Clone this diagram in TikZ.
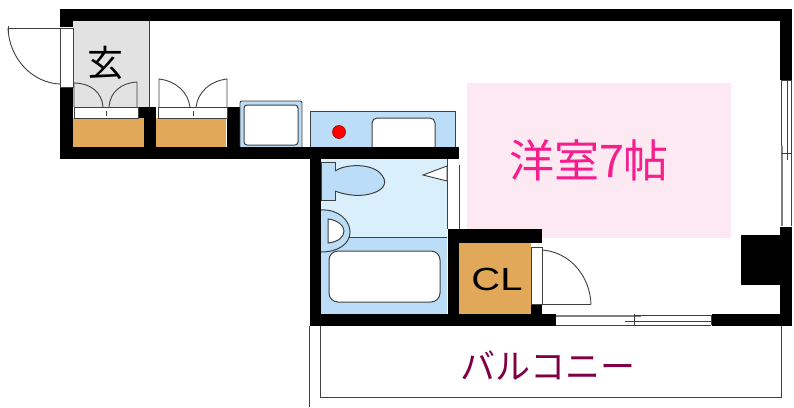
\documentclass[tikz,border=0pt]{standalone}
\usepackage{fontspec}
\newfontfamily\cjk{Noto Sans CJK JP}
\setsansfont{Liberation Sans}
\definecolor{linec}{HTML}{404040}
\definecolor{orangec}{HTML}{E0A858}
\definecolor{bluec}{HTML}{BBDDF8}
\definecolor{paleblue}{HTML}{D9F0FC}
\definecolor{pinkc}{HTML}{FCE9F1}
\definecolor{grayc}{HTML}{E2E2E2}
\tikzset{
  wall/.style={fill=black,draw=none},
  thin line/.style={draw=linec,line width=0.9pt},
  fixture/.style={draw=linec,line width=1pt,fill=bluec},
  whitefix/.style={draw=linec,line width=1pt,fill=white},
  closet/.style={fill=orangec,draw=none},
}
\begin{document}
\begin{tikzpicture}[x=1pt,y=-1pt]
\useasboundingbox (0,0) rectangle (794,407);
\fill[white] (0,0) rectangle (794,407);
% floors
\fill[pinkc] (467,83) rectangle (731,238);
\fill[grayc] (73,21) rectangle (149,107);
\fill[paleblue] (321,159) rectangle (447,237);
\fill[bluec] (321,237) rectangle (447,314);
\draw[fixture] (310,111) rectangle (455,147);
\draw[whitefix,rounded corners=5pt] (372,147) -- (372,118) -- (435,118) -- (435,147);
\draw[fill=red,draw=red!60!black,line width=0.6pt] (339,132) circle (6.5);
\draw[thin line] (149,21) -- (149,107);
\draw[thin line] (321,237) -- (447,237);
\draw[thin line] (447,159) -- (447,229);
\draw[thin line] (459,165) -- (459,229);
% closets
\fill[closet] (73,118) rectangle (144,147);
\fill[closet] (156,118) rectangle (226,147);
\fill[closet] (459,243) rectangle (531,314);
% walls
\fill[wall] (60,9) rectangle (792,21);
\fill[wall] (60,9) rectangle (73,27);
\fill[wall] (60,88) rectangle (73,159);
\fill[wall] (60,147) rectangle (459,159);
\fill[wall] (139,107) rectangle (156,118);
\fill[wall] (144,118) rectangle (156,147);
\fill[wall] (227,107) rectangle (240,147);
\fill[wall] (310,147) rectangle (321,326);
\fill[wall] (310,314) rectangle (556,326);
\fill[wall] (448,229) rectangle (459,314);
\fill[wall] (448,229) rectangle (542,243);
\fill[wall] (531,304) rectangle (542,314);
\fill[wall] (712,314) rectangle (792,326);
\fill[wall] (780,9) rectangle (792,80);
\fill[wall] (780,227) rectangle (792,326);
\fill[wall] (741,235) rectangle (780,285);
% entrance door
\draw[thin line] (60,28) rectangle (73,87);
\draw[thin line] (8,28) -- (60,28);
\draw[thin line] (8,26) -- (8,34);
\draw[thin line] (8,28) .. controls (9,58) and (32,83) .. (60,84);
% shoe closet doors
\draw[thin line] (74,118) rectangle (138,107);
\draw[thin line] (106,111) -- (106,116);
\draw[thin line] (158,118) rectangle (227,107);
\draw[thin line] (193,111) -- (193,116);
\draw[thin line] (74,107) -- (74,83) .. controls (90,83) and (102,92) .. (103,107);
\draw[thin line] (137,107) -- (137,82) .. controls (121,83) and (110,92) .. (109,107);
\draw[thin line] (159,107) -- (159,79) .. controls (176,81) and (188,92) .. (190,107);
\draw[thin line] (227,107) -- (227,79) .. controls (210,81) and (198,92) .. (196,107);
% washer
\fill[bluec] (240,101) rectangle (302,147);
\draw[linec,line width=0.9pt,rounded corners=2pt] (240,147) -- (240,101) -- (302,101) -- (302,147);
\draw[whitefix,rounded corners=3pt] (244,105) rectangle (298,145);
% toilet
\draw[fixture] (321,162) rectangle (335,200);
\draw[fixture] (335,171) .. controls (345,164) and (370,163) .. (380,173) .. controls (388,181) and (385,188) .. (376,192) .. controls (362,198) and (345,195) .. (335,191);
% basin triangle
\draw[thin line,fill=white] (423,175) -- (447,166) -- (447,181) -- cycle;
% wash basin
\draw[fixture] (321,210) .. controls (338,209) and (350,220) .. (350,232) .. controls (350,244) and (338,252) .. (321,252);
\draw[whitefix] (328,219) .. controls (338,220) and (344,226) .. (344,231) .. controls (344,237) and (338,242) .. (328,243) -- cycle;
% tub
\draw[whitefix,rounded corners=9pt] (329,251) rectangle (440,302);
% closet door
\fill[white] (531,247) rectangle (542,304);
\draw[thin line] (531,247) rectangle (542,304);
\draw[thin line] (542,304.5) -- (591,304.5);
\draw[thin line] (542,250) .. controls (570,252) and (590,276) .. (591,304.5);
% south sliding window
\fill[white] (556,314) rectangle (712,326);
\draw[draw=gray,line width=1.6pt] (556,316) -- (641,316);
\draw[thin line] (634,315) -- (712,315);
\draw[thin line] (625,321) -- (711,321);
\draw[thin line] (556,325) -- (711,325);
\draw[thin line] (711,315) -- (711,325);
\draw[thin line] (634,314) -- (634,325);
% east window
\fill[white] (780,80) rectangle (792,227);
\draw[thin line] (781,80) -- (781,226);
\draw[draw=gray,line width=1.6pt] (782,146) -- (782,226);
\draw[thin line] (787,80) -- (787,160);
\draw[thin line] (791,80) -- (791,226);
\draw[thin line] (781,153) -- (791,153);
\draw[thin line] (781,80) -- (791,80);
% balcony
\draw[thin line] (309,326) -- (309,407);
\draw[thin line] (320,326) -- (320,397) -- (781,397) -- (781,326);
% texts
\node[font=\cjk\fontsize{36}{36}\selectfont,text=black,inner sep=0] (genkan) at (105,63) {玄};
\node[font=\cjk\fontsize{45}{45}\selectfont,text={rgb,255:red,245;green,30;blue,140},inner sep=0] (room) at (589,160) {洋室7帖};
\node[font=\sffamily\fontsize{32}{32}\selectfont,text=black,inner sep=0,xscale=1.25] (cl) at (497,279) {CL};
\node[font=\cjk\fontsize{35}{35}\selectfont,text={rgb,255:red,128;green,0;blue,70},inner sep=0] (balc) at (548,366) {バルコニー};
\end{tikzpicture}
\end{document}
